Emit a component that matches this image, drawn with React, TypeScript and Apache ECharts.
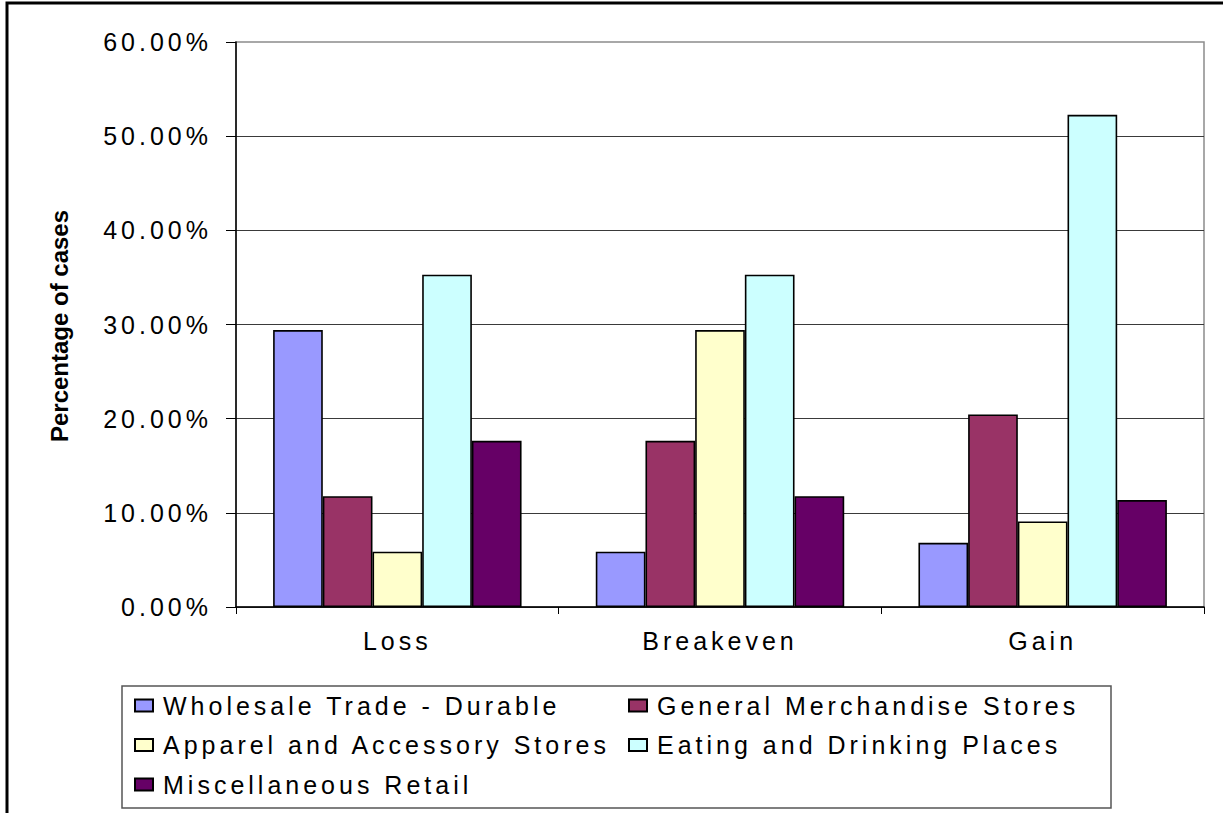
import React, { useEffect, useRef } from "react";
import * as echarts from "echarts";

const categories = ["Loss", "Breakeven", "Gain"];
const seriesNames = [
  "Wholesale Trade - Durable",
  "General Merchandise Stores",
  "Apparel and Accessory Stores",
  "Eating and Drinking Places",
  "Miscellaneous Retail",
];
const wholesale = [29.41, 5.88, 6.82];
const generalMerch = [11.76, 17.65, 20.45];
const apparel = [5.88, 29.41, 9.09];
const eating = [35.29, 35.29, 52.27];
const misc = [17.65, 11.76, 11.36];
const seriesColors = ["#9999FF", "#993366", "#FFFFCC", "#CCFFFF", "#660066"];
const yTitle = "Percentage of cases";

const FONT = "'Liberation Sans', Arial, sans-serif";

export default function App() {
  const ref = useRef<HTMLDivElement>(null);
  useEffect(() => {
    if (!ref.current) return;
    const chart = echarts.init(ref.current, undefined, { renderer: "svg" });
    const values = [wholesale, generalMerch, apparel, eating, misc];
    chart.setOption({
      animation: false,
      backgroundColor: "#ffffff",
      textStyle: { fontFamily: FONT },
      grid: {
        left: 236,
        top: 42,
        right: 19,
        bottom: 206,
        show: true,
        borderColor: "#8c8c8c",
        borderWidth: 1.5,
        containLabel: false,
      },
      xAxis: {
        type: "category",
        data: categories,
        axisLine: { lineStyle: { color: "#000", width: 1.5 } },
        axisTick: { show: true, length: 7, lineStyle: { color: "#000", width: 1 } },
        axisLabel: { color: "#000", fontSize: 25, fontFamily: FONT, margin: 21 },
      },
      yAxis: {
        type: "value",
        min: 0,
        max: 60,
        interval: 10,
        axisLine: { show: true, lineStyle: { color: "#000", width: 1.5 } },
        axisTick: { show: true, length: 10, lineStyle: { color: "#000", width: 1 } },
        axisLabel: {
          color: "#000",
          fontSize: 25,
          fontFamily: FONT,
          margin: 24,
          formatter: (v: number) => v.toFixed(2) + "%",
        },
        splitLine: { show: true, showMaxLine: false, lineStyle: { color: "#3a3a3a", width: 1.2 } },
      },
      legend: [
        {
          orient: "vertical",
          left: 134,
          top: 693,
          padding: 0,
          itemGap: 14.5,
          itemWidth: 18,
          itemHeight: 12,
          icon: "rect",
          data: [seriesNames[0], seriesNames[2], seriesNames[4]],
          textStyle: { fontSize: 25, color: "#000", fontFamily: FONT, padding: [0, 0, 0, 5] },
        },
        {
          orient: "vertical",
          left: 628,
          top: 693,
          padding: 0,
          itemGap: 14.5,
          itemWidth: 18,
          itemHeight: 12,
          icon: "rect",
          data: [seriesNames[1], seriesNames[3]],
          textStyle: { fontSize: 25, color: "#000", fontFamily: FONT, padding: [0, 0, 0, 5] },
        },
      ],
      series: seriesNames.map((name, i) => ({
        name,
        type: "bar",
        data: values[i],
        barGap: "0%",
        barCategoryGap: "23%",
        itemStyle: { color: seriesColors[i], borderColor: "#000", borderWidth: 1.6 },
      })),
      graphic: [
        {
          type: "rect",
          shape: { x: 7, y: 3, width: 1300, height: 900 },
          style: { fill: "none", stroke: "#000", lineWidth: 3 },
          silent: true,
        },
        {
          type: "rect",
          shape: { x: 122, y: 686, width: 989, height: 122 },
          style: { fill: "none", stroke: "#555", lineWidth: 1.5 },
          silent: true,
        },
        {
          type: "text",
          x: 59,
          y: 326,
          rotation: Math.PI / 2,
          style: {
            text: yTitle,
            font: "bold 24px " + FONT,
            fill: "#000",
            align: "center",
            verticalAlign: "middle",
          },
        },
      ],
    });
    return () => chart.dispose();
  }, []);
  return (
    <>
      <style>{`#root svg text { letter-spacing: 4px; } #root svg text[style*="bold"] { letter-spacing: 0px; }`}</style>
      <div
        ref={ref}
        style={{ position: "absolute", left: 0, top: 0, width: 1223, height: 813 }}
      />
    </>
  );
}
